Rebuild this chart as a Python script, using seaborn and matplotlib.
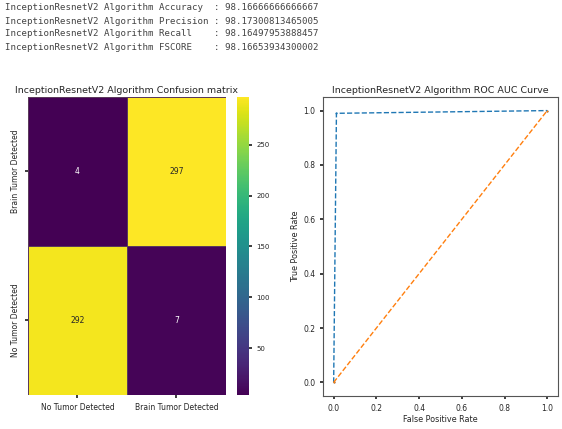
import matplotlib
matplotlib.use("Agg")
import matplotlib.pyplot as plt
import numpy as np
import pandas as pd
import seaborn as sns

model = "InceptionResnetV2"
metric_names = ["Accuracy", "Precision", "Recall", "FSCORE"]
metric_values = ["98.16666666666667", "98.17300813465005", "98.16497953888457", "98.16653934300002"]

row_labels = ["Brain Tumor Detected", "No Tumor Detected"]
col_labels = ["No Tumor Detected", "Brain Tumor Detected"]
conf_values = [[4, 297], [292, 7]]

fpr = [0.0, 0.013, 1.0]
tpr = [0.0, 0.99, 1.0]
chance = [0.0, 1.0]

sns.set_theme(style="white")
plt.rcParams["font.family"] = ["DejaVu Sans"]

fig = plt.figure(figsize=(5.62, 4.29), dpi=100)

# metrics printed as text above the plots
for i, (name, val) in enumerate(zip(metric_names, metric_values)):
    fig.text(0.009, 1 - (8 + i * 13) / 429,
             f"{model} Algorithm {name:<9} : {val}",
             family="DejaVu Sans Mono", fontsize=6.6, color="#444444", va="center")

# confusion matrix
ax1 = fig.add_axes([0.0498, 0.0793, 0.352, 0.695])
cax = fig.add_axes([0.4217, 0.0793, 0.0214, 0.695])
cm = pd.DataFrame(conf_values, index=row_labels, columns=col_labels)
sns.heatmap(cm, annot=True, fmt="d", cmap="viridis", ax=ax1, cbar_ax=cax,
            annot_kws={"fontsize": 5.5}, linewidths=0.6, linecolor="#5a3a5a")
ax1.set_title(f"{model} Algorithm Confusion matrix", fontsize=6.8, pad=3)
ax1.tick_params(labelsize=5.5, length=2, left=True, bottom=True)
ax1.set_yticklabels(row_labels, rotation=90, va="center")
ax1.set_xticklabels(col_labels, rotation=0)
cax.tick_params(labelsize=5, length=2)
cax.set_yticks([50, 100, 150, 200, 250])

# ROC curve
ax2 = fig.add_axes([0.5747, 0.0769, 0.418, 0.697])
sns.lineplot(x=fpr, y=tpr, ax=ax2, linestyle="--", marker=".", markersize=3,
             color="#1f77b4", linewidth=1, markeredgewidth=0)
sns.lineplot(x=chance, y=chance, ax=ax2, linestyle="--", color="#ff7f0e",
             linewidth=1, marker=".", markersize=3, markeredgewidth=0)
ax2.set_title(f"{model} Algorithm ROC AUC Curve", fontsize=6.8, pad=3)
ax2.set_xlabel("False Positive Rate", fontsize=5.8, labelpad=2)
ax2.set_ylabel("True Positive Rate", fontsize=5.8, labelpad=2)
ax2.set_xticks(np.arange(0, 1.01, 0.2))
ax2.set_yticks(np.arange(0, 1.01, 0.2))
ax2.tick_params(labelsize=5.5, length=2, left=True, bottom=True)
for s in ax2.spines.values():
    s.set_color("#555555")
    s.set_linewidth(0.8)

fig.savefig("out.png", dpi=100)
